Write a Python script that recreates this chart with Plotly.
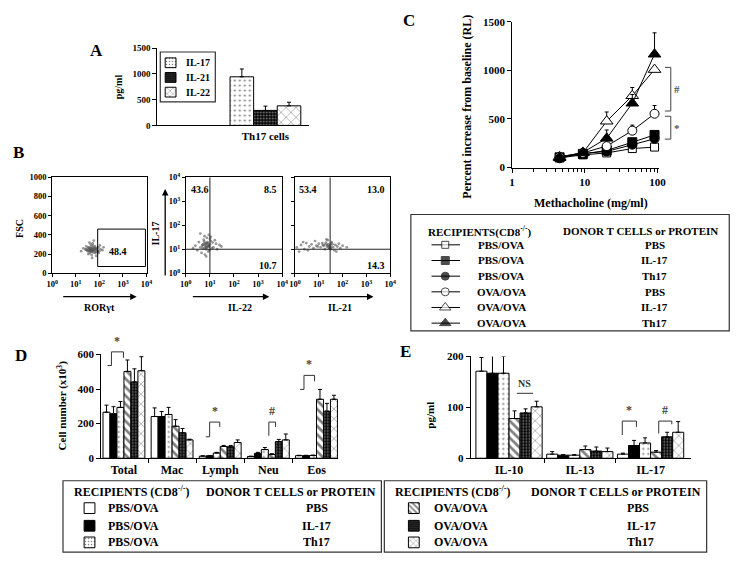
import plotly.graph_objects as go

W, H = 751, 567
FONT = "Liberation Serif"

# ---------------- data ----------------
# Panel A
a_cytokines = ["IL-17", "IL-21", "IL-22"]
a_values = [943, 291, 380]
a_err_top = [1095, 374, 450]

# Panel B (flow cytometry dots)
b1_rort = [26, 32, 36, 39, 41, 44, 45, 47, 48, 50,
           51, 53, 54, 56, 59, 60, 64, 68, 71, 75,
           82, 90, 98, 112, 21, 28, 34, 43, 47, 52,
           56, 62, 66, 69, 79, 86, 105, 135, 17, 38,
           49, 58, 74, 94, 45, 53, 41, 64, 34, 150,
           30, 38, 44, 50, 33, 41, 47, 27, 36, 42]
b1_fsc = [250, 230, 270, 210, 260, 240, 280, 230, 250, 220,
          265, 240, 290, 255, 215, 270, 235, 260, 225, 250,
          240, 270, 230, 250, 260, 280, 200, 300, 190, 310,
          235, 245, 280, 210, 260, 225, 290, 240, 230, 320,
          160, 340, 180, 210, 250, 245, 235, 255, 245, 270,
          240, 255, 225, 245, 265, 235, 250, 245, 230, 260]
b1_gate_x = [85, 9000]
b1_gate_y = [70, 460]
b1_pct = "48.4"

b2_il22 = [4, 5, 6, 7, 8, 9, 10, 12, 3, 5.5, 6.5, 7.5, 8.5, 11, 14, 18,
           2.5, 4.5, 6, 7, 9, 13, 20, 25, 3.5, 5, 8, 10, 6.8, 7.2, 5.8, 9.5,
           16, 30, 2, 4, 6.2, 11, 7.8, 8.8, 6.5, 7.5, 5.2, 8.2, 9.2, 6, 7, 4.8]
b2_il17 = [12, 15, 18, 10, 20, 14, 16, 11, 9, 25, 13, 30, 8, 22, 12, 17,
           14, 7, 35, 5, 40, 19, 10, 15, 20, 11, 13, 27, 16, 12, 21, 9,
           24, 13, 11, 45, 6, 33, 18, 14, 15, 12, 16, 17, 13, 11, 18, 14]
b2_gate = [10, 10]
b2_pct = ["43.6", "8.5", "10.7"]

b3_il21 = [1.2, 1.8, 2.5, 3, 4, 5, 6, 8, 10, 12, 15, 18, 20, 22, 25, 28,
           30, 35, 40, 45, 50, 60, 80, 100, 150, 1.5, 2.2, 3.5, 7, 9, 14, 24,
           32, 38, 55, 70, 26, 30, 34, 21, 16, 27, 33, 19, 23, 29]
b3_il17 = [12, 15, 10, 18, 13, 16, 11, 14, 17, 12, 15, 10, 19, 13, 16, 11,
           14, 20, 12, 9, 15, 13, 11, 14, 12, 8, 20, 9, 22, 13, 18, 24,
           10, 16, 8, 17, 12, 15, 18, 26, 14, 13, 12, 16, 15, 11]
b3_gate = [30, 10]
b3_pct = ["53.4", "13.0", "14.3"]
b_decades = [1, 10, 100, 1000, 10000]
b_decade_labels = ["10<sup>0</sup>", "10<sup>1</sup>", "10<sup>2</sup>",
                   "10<sup>3</sup>", "10<sup>4</sup>"]

# Groups (recipients / donor)
grp_recipients = ["PBS/OVA", "PBS/OVA", "PBS/OVA", "OVA/OVA", "OVA/OVA", "OVA/OVA"]
grp_donor = ["PBS", "IL-17", "Th17", "PBS", "IL-17", "Th17"]

# Panel C
c_dose = [4.5, 9.4, 20, 45, 91]
c_pbs_pbs = [100, 130, 150, 195, 210]
c_pbs_pbs_err = [15, 15, 15, 15, 20]
c_pbs_il17 = [105, 140, 175, 260, 335]
c_pbs_il17_err = [20, 20, 20, 25, 30]
c_pbs_th17 = [95, 145, 165, 235, 295]
c_pbs_th17_err = [15, 15, 20, 25, 25]
c_ova_pbs = [110, 150, 220, 379, 553]
c_ova_pbs_err = [15, 20, 30, 57, 84]
c_ova_il17 = [110, 150, 476, 738, 1007]
c_ova_il17_err = [15, 20, 95, 85, 30]
c_ova_th17 = [100, 155, 300, 661, 1165]
c_ova_th17_err = [15, 20, 86, 90, 220]
c_sig_top = [1030, 527]
c_sig_bottom = [581, 292]
c_sig_label = ["#", "*"]

# Panel D (cell number x10^3)
d_categories = ["Total", "Mac", "Lymph", "Neu", "Eos"]
d_pbs_pbs = [266, 241, 12, 10, 15]
d_pbs_pbs_top = [307, 291, 14, 12, 17]
d_pbs_il17 = [257, 241, 14, 28, 15]
d_pbs_il17_top = [298, 270, 16, 34, 17]
d_pbs_th17 = [294, 253, 30, 50, 16]
d_pbs_th17_top = [328, 294, 34, 62, 18]
d_ova_pbs = [502, 185, 68, 22, 341]
d_ova_pbs_top = [568, 223, 74, 26, 398]
d_ova_il17 = [441, 147, 66, 96, 272]
d_ova_il17_top = [517, 172, 74, 109, 317]
d_ova_th17 = [506, 106, 91, 106, 341]
d_ova_th17_top = [587, 110, 106, 140, 364]
d_brk_left = [-0.26, 1.78, 3.01, 3.74]
d_brk_right = [-0.01, 1.99, 3.15, 3.96]
d_brk_yleft = [536, 124, 130, 398]
d_brk_yright = [581, 181, 181, 445]
d_brk_top = [615, 209, 209, 479]
d_brk_foot = [True, True, False, True]
d_brk_label = ["*", "*", "#", "*"]

# Panel E (pg/ml)
e_categories = ["IL-10", "IL-13", "IL-17"]
e_pbs_pbs = [171, 8, 8]
e_pbs_pbs_top = [198, 13, 10]
e_pbs_il17 = [167, 6, 25]
e_pbs_il17_top = [202, 7, 35]
e_pbs_th17 = [167, 6, 30]
e_pbs_th17_top = [200, 7, 40]
e_ova_pbs = [78, 17, 12]
e_ova_pbs_top = [93, 24, 15]
e_ova_il17 = [89, 14, 42]
e_ova_il17_top = [97, 22, 51]
e_ova_th17 = [101, 13, 51]
e_ova_th17_top = [112, 20, 72]
e_brk_left = [1.60, 2.115]
e_brk_right = [1.80, 2.30]
e_brk_yleft = [45.6, 48.7]
e_brk_yright = [61.5, 66.7]
e_brk_top = [73, 73]
e_brk_label = ["*", "#"]
e_ns_x = [0.11, 0.34]
e_ns_y = 127.5

# ---------------- helpers ----------------
def fx(p):
    return p / W

def fy(p):
    return 1 - p / H

def dom_x(a, b):
    return [fx(a), fx(b)]

def dom_y(top, bottom):
    return [fy(bottom), fy(top)]

def tfont(size, color="black"):
    return dict(family=FONT, size=size, color=color, weight="bold")

STYLES = [
    dict(color="white", line=dict(color="black", width=1)),
    dict(color="black", line=dict(color="black", width=1)),
    dict(color="white", line=dict(color="black", width=1),
         pattern=dict(shape=".", fgcolor="black", bgcolor="white", size=5, solidity=0.15)),
    dict(color="white", line=dict(color="black", width=1),
         pattern=dict(shape="\\", fgcolor="black", bgcolor="white", size=6, solidity=0.45)),
    dict(color="black", line=dict(color="black", width=1),
         pattern=dict(shape=".", fgcolor="white", bgcolor="black", size=3, solidity=0.3)),
    dict(color="white", line=dict(color="black", width=1),
         pattern=dict(shape="x", fgcolor="black", bgcolor="white", size=7, solidity=0.15)),
]
KEY_STYLES = [
    dict(color="white", line=dict(color="black", width=1)),
    dict(color="black", line=dict(color="black", width=1)),
    dict(color="white", line=dict(color="black", width=1),
         pattern=dict(shape=".", fgcolor="black", bgcolor="white", size=3, solidity=0.2)),
    dict(color="white", line=dict(color="black", width=1),
         pattern=dict(shape="\\", fgcolor="black", bgcolor="white", size=4, solidity=0.45)),
    dict(color="black", line=dict(color="black", width=1),
         pattern=dict(shape=".", fgcolor="white", bgcolor="black", size=2, solidity=0.3)),
    dict(color="white", line=dict(color="black", width=1),
         pattern=dict(shape="x", fgcolor="black", bgcolor="white", size=4, solidity=0.2)),
]

# panel geometry in pixels: (left, right, top, bottom, ymin, ymax)
GEOM = {"6": (97, 338, 356, 462, 0, 600), "7": (473, 697, 358, 462, 0, 200)}

fig = go.Figure()
annotations = []
shapes = []

def text(t, x, y, size, xanchor="center", yanchor="middle", angle=0,
         xref="paper", yref="paper", color="black"):
    if xref == "paper":
        x = fx(x)
    if yref == "paper":
        y = fy(y)
    annotations.append(dict(text=t, x=x, y=y, xref=xref, yref=yref,
                            xanchor=xanchor, yanchor=yanchor, showarrow=False,
                            textangle=angle, font=tfont(size, color)))

def arrow(x_head, y_head, dx, dy):
    annotations.append(dict(text="", x=fx(x_head), y=fy(y_head), xref="paper", yref="paper",
                            ax=dx, ay=dy, showarrow=True, arrowhead=2, arrowsize=1,
                            arrowwidth=1.3, arrowcolor="black"))

def box(x0, y0, x1, y1, color="#333", width=1.2):
    shapes.append(dict(type="rect", xref="paper", yref="paper", x0=fx(x0), x1=fx(x1),
                       y0=fy(y1), y1=fy(y0), line=dict(color=color, width=width),
                       fillcolor="rgba(0,0,0,0)", layer="above"))

def err_bar(vals, tops):
    return dict(type="data", symmetric=False, array=[t - v for v, t in zip(vals, tops)],
                arrayminus=[0] * len(vals), color="black", thickness=1, width=2)

def add_bar_panel(ax, series, tops, ncat, w):
    for i, (vals, tp) in enumerate(zip(series, tops)):
        fig.add_trace(go.Bar(
            x=list(range(ncat)), y=vals, width=w, offset=-3 * w + i * w,
            marker=STYLES[i], error_y=err_bar(vals, tp),
            xaxis="x" + ax, yaxis="y" + ax, showlegend=False, hoverinfo="skip"))

def add_brackets(ax, left, right, yl, yr, top, labels, feet, foot_len):
    l, r, t, b, y0, y1 = GEOM[ax]

    def ypaper(v):
        return fy(b - (v - y0) / (y1 - y0) * (b - t))

    for i in range(len(left)):
        xs = [left[i], left[i], right[i], right[i]]
        ys = [yl[i], top[i], top[i], yr[i]]
        if feet[i]:
            xs = [left[i] - foot_len] + xs
            ys = [yl[i]] + ys
        path = "M " + " L ".join(f"{x},{ypaper(y)}" for x, y in zip(xs, ys))
        shapes.append(dict(type="path", xref="x" + ax, yref="paper", path=path,
                           line=dict(color="#333", width=1)))
        annotations.append(dict(text=labels[i], x=(left[i] + right[i]) / 2, y=ypaper(top[i]),
                                xref="x" + ax, yref="paper", yanchor="bottom", yshift=2,
                                showarrow=False, font=tfont(12, "#444")))

# ---------------- Panel A ----------------
a_styles = [2, 4, 5]
for i, (name, v, t) in enumerate(zip(a_cytokines, a_values, a_err_top)):
    fig.add_trace(go.Bar(x=[0], y=[v], width=0.3, offset=-0.45 + i * 0.3,
                         marker=STYLES[a_styles[i]], error_y=err_bar([v], [t]),
                         xaxis="x", yaxis="y", showlegend=False, hoverinfo="skip"))
text("A", 92, 45, 17)
text("pg/ml", 114, 83, 10, angle=-90)
box(157, 47, 213, 98)
a_rows = [58, 73, 88]
for i, name in enumerate(a_cytokines):
    fig.add_trace(go.Bar(x=[167.5], y=[10], base=[a_rows[i] - 5], width=[11],
                         marker=KEY_STYLES[a_styles[i]], xaxis="x8", yaxis="y8",
                         showlegend=False, hoverinfo="skip"))
    text(name, 181, a_rows[i], 10, xanchor="left")

# ---------------- Panel B ----------------
dot = dict(size=2.8, color="#555", opacity=0.6)
fig.add_trace(go.Scatter(x=b1_rort, y=b1_fsc, mode="markers", marker=dot,
                         xaxis="x2", yaxis="y2", showlegend=False, hoverinfo="skip"))
fig.add_trace(go.Scatter(x=[b1_gate_x[0], b1_gate_x[1], b1_gate_x[1], b1_gate_x[0], b1_gate_x[0]],
                         y=[b1_gate_y[0], b1_gate_y[0], b1_gate_y[1], b1_gate_y[1], b1_gate_y[0]],
                         mode="lines", line=dict(color="black", width=1),
                         xaxis="x2", yaxis="y2", showlegend=False, hoverinfo="skip"))
for ax, xs, ys, gate in (("3", b2_il22, b2_il17, b2_gate), ("4", b3_il21, b3_il17, b3_gate)):
    fig.add_trace(go.Scatter(x=xs, y=ys, mode="markers", marker=dot,
                             xaxis="x" + ax, yaxis="y" + ax, showlegend=False, hoverinfo="skip"))
    fig.add_trace(go.Scatter(x=[gate[0], gate[0]], y=[b_decades[0], b_decades[-1]], mode="lines",
                             line=dict(color="#222", width=1), xaxis="x" + ax, yaxis="y" + ax,
                             showlegend=False, hoverinfo="skip"))
    fig.add_trace(go.Scatter(x=[b_decades[0], b_decades[-1]], y=[gate[1], gate[1]], mode="lines",
                             line=dict(color="#222", width=1), xaxis="x" + ax, yaxis="y" + ax,
                             showlegend=False, hoverinfo="skip"))
text("B", 13, 150, 17)
text(b1_pct, 103, 251, 10, xanchor="left")
text(b2_pct[0], 186, 187, 10, xanchor="left")
text(b2_pct[1], 278, 187, 10, xanchor="right")
text(b2_pct[2], 278, 265, 10, xanchor="right")
text(b3_pct[0], 296, 187, 10, xanchor="left")
text(b3_pct[1], 388, 187, 10, xanchor="right")
text(b3_pct[2], 388, 265, 10, xanchor="right")
text("FSC", 13, 227, 10, angle=-90)
text("IL-17", 152, 232, 10, angle=-90)
text("RORγt", 95, 308, 10)
text("IL-22", 238, 308, 10)
text("IL-21", 340, 308, 10)
arrow(133, 297, -75, 0)
arrow(268, 297, -78, 0)
arrow(374, 297, -66, 0)
arrow(162, 187, 0, 88)

# ---------------- Panel C ----------------
c_series = [c_pbs_pbs, c_pbs_il17, c_pbs_th17, c_ova_pbs, c_ova_il17, c_ova_th17]
c_errs = [c_pbs_pbs_err, c_pbs_il17_err, c_pbs_th17_err, c_ova_pbs_err, c_ova_il17_err, c_ova_th17_err]
c_symbols = ["square", "square", "circle", "circle", "triangle-up", "triangle-up"]
c_fill = ["white", "black", "black", "white", "white", "black"]
c_size = [8, 9, 9, 9, 11, 11]
for i in range(6):
    fig.add_trace(go.Scatter(
        x=c_dose, y=c_series[i], mode="lines+markers",
        line=dict(color="black", width=1),
        marker=dict(symbol=c_symbols[i], size=c_size[i], color=c_fill[i],
                    line=dict(color="black", width=1)),
        error_y=dict(type="data", symmetric=False, array=c_errs[i],
                     arrayminus=[0] * len(c_dose), color="black", thickness=1, width=2),
        xaxis="x5", yaxis="y5", showlegend=False, hoverinfo="skip", cliponaxis=False))
for top, bot, lab in zip(c_sig_top, c_sig_bottom, c_sig_label):
    shapes.append(dict(type="path", xref="paper", yref="y5",
                       path=f"M {fx(670.5)},{top} L {fx(676.5)},{top} L {fx(676.5)},{bot} L {fx(670.5)},{bot}",
                       line=dict(color="#444", width=1)))
    annotations.append(dict(text=lab, x=fx(688), y=(top + bot) / 2, xref="paper", yref="y5",
                            showarrow=False, font=tfont(11, "#555")))
text("C", 410, 15, 17)
text("Percent increase from baseline (RL)", 469, 103, 12, angle=-90)
text("Methacholine (mg/ml)", 595, 201, 12)

# C legend table
box(412, 213, 736, 332)
text("RECIPIENTS(CD8<sup>-/-</sup>)", 482, 230, 11)
text("DONOR T CELLS or PROTEIN", 646, 230, 11)
c_rows = [244, 260, 276, 292, 308, 324]
for i in range(6):
    fig.add_trace(go.Scatter(
        x=[433, 447, 462], y=[c_rows[i]] * 3, mode="lines+markers",
        line=dict(color="black", width=1),
        marker=dict(symbol=c_symbols[i], size=[0, c_size[i] - 1, 0], color=c_fill[i],
                    line=dict(color="black", width=1)),
        xaxis="x8", yaxis="y8", showlegend=False, hoverinfo="skip"))
    text(grp_recipients[i], 504, c_rows[i], 11)
    text(grp_donor[i], 660, c_rows[i], 11)

# ---------------- Panel D ----------------
d_series = [d_pbs_pbs, d_pbs_il17, d_pbs_th17, d_ova_pbs, d_ova_il17, d_ova_th17]
d_tops = [d_pbs_pbs_top, d_pbs_il17_top, d_pbs_th17_top, d_ova_pbs_top, d_ova_il17_top, d_ova_th17_top]
add_bar_panel("6", d_series, d_tops, len(d_categories), 0.145)
add_brackets("6", d_brk_left, d_brk_right, d_brk_yleft, d_brk_yright, d_brk_top,
             d_brk_label, d_brk_foot, 0.08)
text("D", 15, 357, 17)
text("Cell number (x10<sup>3</sup>)", 57, 408, 11, angle=-90)

# ---------------- Panel E ----------------
e_series = [e_pbs_pbs, e_pbs_il17, e_pbs_th17, e_ova_pbs, e_ova_il17, e_ova_th17]
e_tops = [e_pbs_pbs_top, e_pbs_il17_top, e_pbs_th17_top, e_ova_pbs_top, e_ova_il17_top, e_ova_th17_top]
add_bar_panel("7", e_series, e_tops, len(e_categories), 0.156)
add_brackets("7", e_brk_left, e_brk_right, e_brk_yleft, e_brk_yright, e_brk_top,
             e_brk_label, [False, False], 0.0)
fig.add_trace(go.Scatter(x=e_ns_x, y=[e_ns_y, e_ns_y], mode="lines", line=dict(color="#333", width=1),
                         xaxis="x7", yaxis="y7", showlegend=False, hoverinfo="skip"))
annotations.append(dict(text="NS", x=sum(e_ns_x) / 2, y=e_ns_y, xref="x7", yref="y7",
                        yanchor="bottom", yshift=2, showarrow=False, font=tfont(10, "#333")))
text("E", 407, 353, 17)
text("pg/ml", 432, 418, 11, angle=-90)

# ---------------- bottom legend tables ----------------
box(58, 485, 382, 558)
box(385, 485, 713, 558)
text("RECIPIENTS (CD8<sup>-/-</sup>)", 128, 496, 12)
text("DONOR T CELLS or PROTEIN", 290, 496, 12)
text("RECIPIENTS (CD8<sup>-/-</sup>)", 455, 496, 12)
text("DONOR T CELLS or PROTEIN", 621, 496, 12)
bl_rows = [513, 531, 548]
for k in range(3):
    for j, (kx, tx, dx, danchor) in enumerate(((85, 102, 316, "center"), (415, 433, 630, "left"))):
        i = j * 3 + k
        fig.add_trace(go.Bar(x=[kx], y=[11], base=[bl_rows[k] - 5.5], width=[11],
                             marker=KEY_STYLES[i], xaxis="x8", yaxis="y8",
                             showlegend=False, hoverinfo="skip"))
        text(grp_recipients[i], tx, bl_rows[k], 12, xanchor="left")
        text(grp_donor[i], dx, bl_rows[k], 12, xanchor=danchor)

# ---------------- layout ----------------
def axis_style(**kw):
    base = dict(showline=True, linecolor="black", linewidth=1, ticks="outside", ticklen=4,
                tickwidth=1, tickcolor="black", showgrid=False, zeroline=False,
                tickfont=tfont(10), fixedrange=True)
    base.update(kw)
    return base

c_minor = [m * 10 ** k for k in (0, 1) for m in range(2, 10)]
BT = 8.5  # tick font size for flow plots

fig.update_layout(
    width=W, height=H, margin=dict(l=0, r=0, t=0, b=0),
    paper_bgcolor="white", plot_bgcolor="rgba(0,0,0,0)",
    barmode="overlay", showlegend=False,
    font=dict(family=FONT, color="black"),
    xaxis=axis_style(domain=dom_x(154, 308), range=[-1.375, 0.55], tickvals=[0],
                     ticktext=["Th17 cells"], ticks="", tickfont=tfont(11), anchor="y"),
    yaxis=axis_style(domain=dom_y(43, 122), range=[0, 1500], tickvals=[0, 500, 1000, 1500],
                     tickfont=tfont(9), anchor="x"),
    xaxis2=axis_style(type="log", domain=dom_x(47, 143), range=[0, 4], tickvals=b_decades,
                      ticktext=b_decade_labels, tickfont=tfont(BT), mirror=True, ticklen=3, anchor="y2"),
    yaxis2=axis_style(domain=dom_y(175, 273), range=[0, 1000], tickvals=[0, 200, 400, 600, 800, 1000],
                      tickfont=tfont(BT), mirror=True, ticklen=3, anchor="x2"),
    xaxis3=axis_style(type="log", domain=dom_x(183, 281), range=[0, 4], tickvals=b_decades,
                      ticktext=b_decade_labels, tickfont=tfont(BT), mirror=True, ticklen=3, anchor="y3"),
    yaxis3=axis_style(type="log", domain=dom_y(175, 273), range=[0, 4], tickvals=b_decades,
                      ticktext=b_decade_labels, tickfont=tfont(BT), mirror=True, ticklen=3, anchor="x3"),
    xaxis4=axis_style(type="log", domain=dom_x(294, 391), range=[0, 4], tickvals=b_decades,
                      ticktext=b_decade_labels, tickfont=tfont(BT), mirror=True, ticklen=3, anchor="y4"),
    yaxis4=axis_style(type="log", domain=dom_y(175, 273), range=[0, 4], tickvals=b_decades,
                      showticklabels=False, mirror=True, ticklen=3, anchor="x4"),
    xaxis5=axis_style(type="log", domain=dom_x(515, 665), range=[0, 2.027], tickvals=[1, 10, 100],
                      ticktext=["1", "10", "100"], tickfont=tfont(11),
                      minor=dict(tickvals=c_minor, ticks="outside", ticklen=3, tickcolor="black"),
                      anchor="y5"),
    yaxis5=axis_style(domain=dom_y(16, 165), range=[0, 1500], tickvals=[0, 500, 1000, 1500],
                      tickfont=tfont(11), anchor="x5"),
    xaxis6=axis_style(domain=dom_x(97, 338), range=[-0.47, 4.45], tickvals=list(range(5)),
                      ticktext=d_categories, ticks="", tickfont=tfont(12),
                      minor=dict(tickvals=[0.5, 1.5, 2.5, 3.5], ticks="outside", ticklen=4,
                                 tickcolor="black"), anchor="y6"),
    yaxis6=axis_style(domain=dom_y(356, 462), range=[0, 600], tickvals=[0, 200, 400, 600],
                      tickfont=tfont(11), anchor="x6"),
    xaxis7=axis_style(domain=dom_x(473, 697), range=[-0.54, 2.57], tickvals=list(range(3)),
                      ticktext=e_categories, ticks="", tickfont=tfont(12),
                      minor=dict(tickvals=[0.5, 1.5], ticks="outside", ticklen=4, tickcolor="black"),
                      anchor="y7"),
    yaxis7=axis_style(domain=dom_y(358, 462), range=[0, 200], tickvals=[0, 100, 200],
                      tickfont=tfont(11), anchor="x7"),
    xaxis8=dict(domain=[0, 1], range=[0, W], visible=False, fixedrange=True, anchor="y8"),
    yaxis8=dict(domain=[0, 1], range=[H, 0], visible=False, fixedrange=True, anchor="x8"),
    annotations=annotations,
    shapes=shapes,
)

fig.write_html("out.html", config={"displayModeBar": False},
               post_script="document.body.style.margin='0';document.body.style.overflow='hidden';")
